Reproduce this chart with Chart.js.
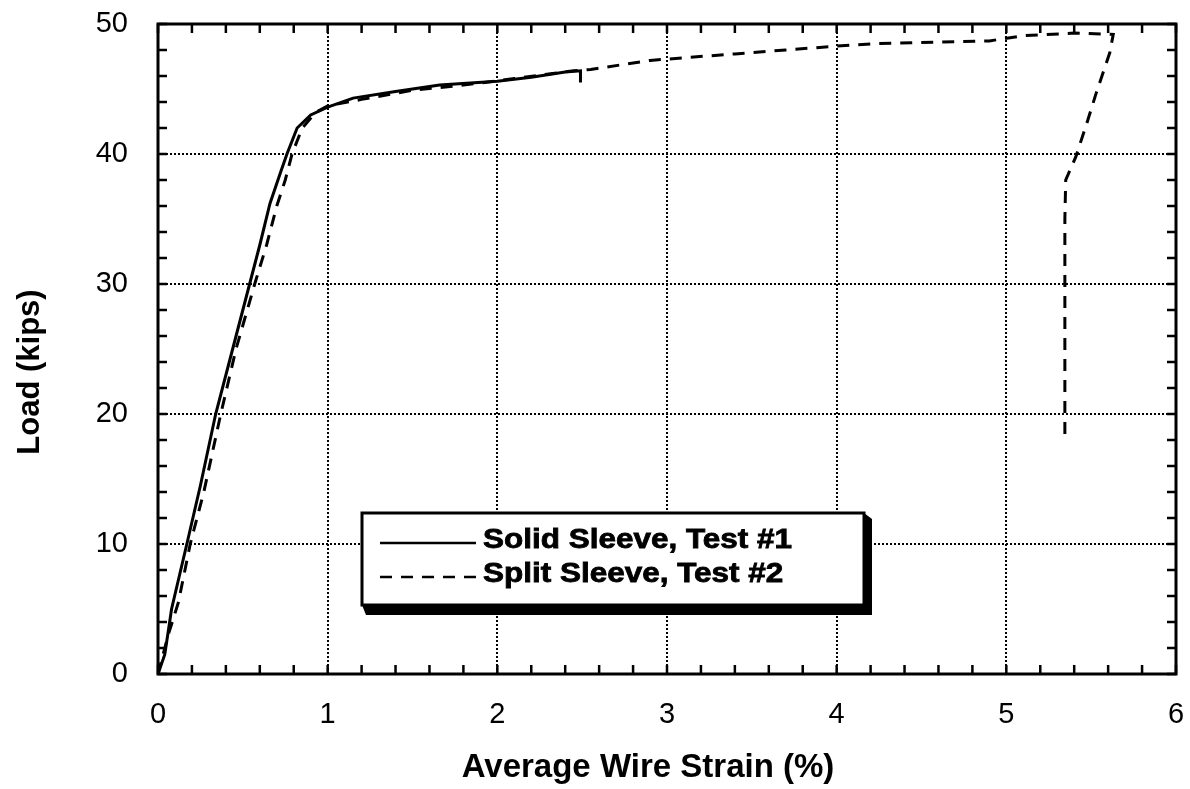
<!DOCTYPE html>
<html lang="en">
<head>
    <meta charset="UTF-8">
    <title>Load vs Average Wire Strain</title>
    <style>
        html, body { margin: 0; padding: 0; background: #fff; }
        #wrap { width: 1190px; height: 789px; }
    </style>
</head>
<body>
    <div id="wrap"><canvas id="strainChart"></canvas></div>

    <script src="https://cdn.jsdelivr.net/npm/chart.js"></script>
    <script>
        // Solid Sleeve, Test #1
        const solidStrain = [0, 0.04, 0.08, 0.17, 0.25, 0.34, 0.44, 0.54, 0.60, 0.66, 0.72, 0.76, 0.82, 0.90, 1.00, 1.15, 1.40, 1.66, 2.00, 2.20, 2.40, 2.49, 2.49];
        const solidLoad   = [0, 1.5, 5.0, 10.0, 14.5, 20.0, 25.0, 30.0, 33.0, 36.2, 38.5, 40.0, 42.0, 43.0, 43.6, 44.3, 44.8, 45.3, 45.6, 45.9, 46.3, 46.4, 45.5];

        // Split Sleeve, Test #2
        const splitStrain = [0, 0.06, 0.12, 0.19, 0.27, 0.37, 0.46, 0.57, 0.64, 0.70, 0.75, 0.79, 0.85, 0.93, 1.00, 1.20, 1.50, 1.80, 2.10, 2.45, 2.55, 2.90, 3.00, 3.40, 3.70, 4.00, 4.25, 4.60, 4.90, 5.10, 5.40, 5.63, 5.61, 5.53, 5.48, 5.41, 5.35, 5.345, 5.345];
        const splitLoad   = [0, 3.0, 5.5, 10.0, 14.0, 20.0, 25.0, 30.0, 33.0, 36.0, 38.0, 40.0, 42.0, 43.2, 43.7, 44.2, 44.9, 45.3, 45.8, 46.4, 46.5, 47.2, 47.3, 47.7, 48.0, 48.3, 48.5, 48.6, 48.7, 49.1, 49.3, 49.2, 47.8, 44.7, 42.6, 39.8, 38.0, 35.0, 18.4];

        const xMajor = [0, 1, 2, 3, 4, 5, 6];
        const yMajor = [0, 10, 20, 30, 40, 50];
        const xMinorStep = 0.2;
        const yMinorStep = 2;

        const seriesLabels = ['Solid Sleeve, Test #1', 'Split Sleeve, Test #2'];
        const xTitle = 'Average Wire Strain (%)';
        const yTitle = 'Load (kips)';

        const FONT = "'Liberation Sans', Arial, Helvetica, sans-serif";

        function toPoints(xs, ys) {
            return xs.map((x, i) => ({ x: x, y: ys[i] }));
        }

        // keep the plot box where the original has it (labels may overhang)
        function noOverhang(scale) {
            scale.paddingTop = 0;
            scale.paddingBottom = 0;
            scale.paddingLeft = 0;
            scale.paddingRight = 0;
        }

        // box, inward ticks on all four sides
        const frameTicks = {
            id: 'frameTicks',
            afterDatasetsDraw(chart) {
                const { ctx, chartArea: a, scales: { x, y } } = chart;
                const len = 9;
                ctx.save();
                ctx.strokeStyle = '#000';
                ctx.lineWidth = 2.5;
                ctx.beginPath();
                for (let v = 0; v <= 6.0001; v += xMinorStep) {
                    const px = x.getPixelForValue(v);
                    ctx.moveTo(px, a.bottom); ctx.lineTo(px, a.bottom - len);
                    ctx.moveTo(px, a.top); ctx.lineTo(px, a.top + len);
                }
                for (let v = 0; v <= 50.0001; v += yMinorStep) {
                    const py = y.getPixelForValue(v);
                    ctx.moveTo(a.left, py); ctx.lineTo(a.left + len, py);
                    ctx.moveTo(a.right, py); ctx.lineTo(a.right - len, py);
                }
                ctx.stroke();
                ctx.lineWidth = 3;
                ctx.strokeRect(a.left, a.top, a.right - a.left, a.bottom - a.top);
                ctx.restore();
            }
        };

        // axis titles (placed like the original, a bit off the plot centre)
        const axisTitles = {
            id: 'axisTitles',
            afterDraw(chart) {
                const { ctx } = chart;
                ctx.save();
                ctx.fillStyle = '#000';
                ctx.textAlign = 'center';
                ctx.textBaseline = 'middle';
                ctx.font = 'bold 33px ' + FONT;
                ctx.fillText(xTitle, 648, 768);
                ctx.translate(30, 372);
                ctx.rotate(-Math.PI / 2);
                ctx.font = 'bold 31px ' + FONT;
                ctx.fillText(yTitle, 0, 0);
                ctx.restore();
            }
        };

        // framed legend with a drop shadow, inside the plot
        const boxLegend = {
            id: 'boxLegend',
            afterDraw(chart) {
                const { ctx } = chart;
                const left = 362, top = 513, right = 864, bottom = 605;
                ctx.save();
                ctx.fillStyle = '#000';
                ctx.beginPath();
                ctx.moveTo(left, bottom);
                ctx.lineTo(left + 4, bottom + 10);
                ctx.lineTo(right + 8, bottom + 10);
                ctx.lineTo(right + 8, top + 6);
                ctx.lineTo(right, top);
                ctx.closePath();
                ctx.fill();
                ctx.fillStyle = '#fff';
                ctx.fillRect(left, top, right - left, bottom - top);
                ctx.strokeStyle = '#000';
                ctx.lineWidth = 3;
                ctx.strokeRect(left, top, right - left, bottom - top);

                ctx.font = 'bold 27px ' + FONT;
                ctx.textBaseline = 'middle';
                ctx.fillStyle = '#000';
                const sx = 309 / ctx.measureText(chart.data.datasets[0].label).width;
                chart.data.datasets.forEach((ds, i) => {
                    const yy = 543 + i * 34;
                    ctx.beginPath();
                    ctx.lineWidth = 2.5;
                    ctx.setLineDash(ds.borderDash || []);
                    ctx.moveTo(380, yy);
                    ctx.lineTo(476, yy);
                    ctx.stroke();
                    ctx.setLineDash([]);
                    ctx.save();
                    ctx.translate(483, yy - 2);
                    ctx.scale(sx, 1);
                    ctx.lineWidth = 0.8;
                    ctx.fillText(ds.label, 0, 0);
                    ctx.strokeText(ds.label, 0, 0);
                    ctx.restore();
                });
                ctx.restore();
            }
        };

        new Chart(document.getElementById('strainChart'), {
            type: 'scatter',
            data: {
                datasets: [{
                    label: seriesLabels[0],
                    data: toPoints(solidStrain, solidLoad),
                    showLine: true,
                    borderColor: '#000',
                    borderWidth: 3,
                    pointRadius: 0,
                    tension: 0
                }, {
                    label: seriesLabels[1],
                    data: toPoints(splitStrain, splitLoad),
                    showLine: true,
                    borderColor: '#000',
                    borderWidth: 3,
                    borderDash: [12, 9],
                    pointRadius: 0,
                    tension: 0
                }]
            },
            options: {
                responsive: true,
                maintainAspectRatio: false,
                animation: false,
                layout: { padding: { top: 24, right: 14, left: 0, bottom: 0 } },
                plugins: {
                    legend: { display: false },
                    tooltip: { enabled: false }
                },
                scales: {
                    x: {
                        type: 'linear',
                        min: 0, max: 6,
                        afterFit(scale) { scale.height = 115; noOverhang(scale); },
                        afterBuildTicks(scale) { scale.ticks = xMajor.map(v => ({ value: v })); },
                        ticks: {
                            color: '#000',
                            padding: 24,
                            font: { family: FONT, size: 29 }
                        },
                        grid: { color: '#000', lineWidth: 2, drawTicks: false },
                        border: { display: false, dash: [2, 2] }
                    },
                    y: {
                        type: 'linear',
                        min: 0, max: 50,
                        afterFit(scale) { scale.width = 158; noOverhang(scale); },
                        afterBuildTicks(scale) { scale.ticks = yMajor.map(v => ({ value: v })); },
                        ticks: {
                            color: '#000',
                            padding: 30,
                            font: { family: FONT, size: 29 }
                        },
                        grid: { color: '#000', lineWidth: 2, drawTicks: false },
                        border: { display: false, dash: [2, 2] }
                    }
                }
            },
            plugins: [frameTicks, axisTitles, boxLegend]
        });
    </script>
</body>
</html>
